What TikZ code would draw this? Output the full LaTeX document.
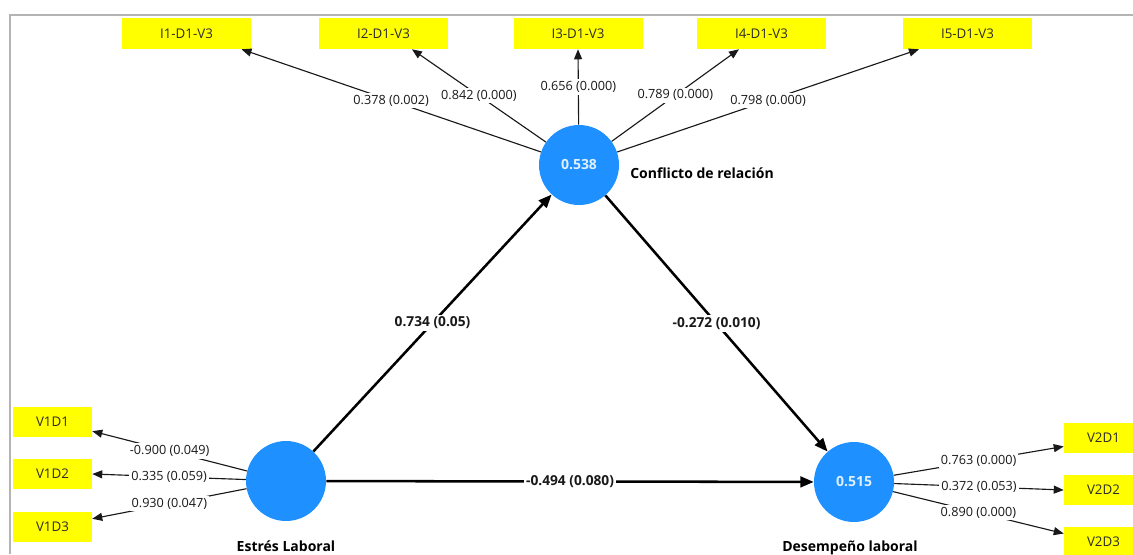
\documentclass[tikz,border=0pt]{standalone}
\usepackage{fontspec}
\setmainfont{Open Sans}
\usetikzlibrary{arrows.meta}
\definecolor{latblue}{RGB}{30,144,255}
\definecolor{boxyellow}{RGB}{255,255,0}
\definecolor{valtext}{RGB}{222,240,255}
\definecolor{framegray}{RGB}{180,180,180}
\definecolor{boxtext}{RGB}{45,45,45}
\begin{document}
\begin{tikzpicture}[x=0.75pt, y=-0.75pt,
    latent/.style={circle, fill=latblue, minimum size=60pt, inner sep=0pt, text=valtext, font=\fontsize{10.5}{12}\selectfont\bfseries},
    latname/.style={font=\fontsize{10.5}{12}\selectfont\bfseries, inner sep=0pt},
    topind/.style={fill=boxyellow, minimum width=96.75pt, minimum height=23.25pt, inner sep=0pt, text=boxtext, font=\fontsize{10}{12}\selectfont},
    sideind/.style={fill=boxyellow, minimum width=59.25pt, minimum height=22.5pt, inner sep=0pt, text=boxtext, font=\fontsize{10}{12}\selectfont},
    loadarrow/.style={-{Triangle[length=7.5pt,width=6pt]}, line width=0.85pt, black!90},
    structarrow/.style={-{Triangle[length=10pt,width=8pt]}, line width=1.9pt, black},
    coef/.style={fill=white, inner sep=1.5pt, text=black!90, font=\fontsize{9.5}{11}\selectfont},
    bcoef/.style={coef, font=\fontsize{10.3}{12}\selectfont\bfseries}]
    \useasboundingbox (0,0) rectangle (1133,554);
    \draw[framegray, line width=1.5pt] (10,554) -- (10,15) -- (1133,15);
    % latent variables
    \node[latent] (conf) at (579,165) {0.538};
    \node[latent] (estres) at (286,481) {};
    \node[latent] (desemp) at (854,482) {0.515};
    \node[latname, anchor=west] (lconf) at (630,173) {Conflicto de relación};
    \node[latname] (lestres) at (286,546) {Estrés Laboral};
    \node[latname] (ldesemp) at (850,548) {Desempeño laboral};
    % indicators
    \node[topind] (i1) at (186.5,33.5) {I1-D1-V3};
    \node[topind] (i2) at (383.5,33.5) {I2-D1-V3};
    \node[topind] (i3) at (578,33.5) {I3-D1-V3};
    \node[topind] (i4) at (761.5,33.5) {I4-D1-V3};
    \node[topind] (i5) at (967.5,33.5) {I5-D1-V3};
    \node[sideind] (v1d1) at (52.5,422) {V1D1};
    \node[sideind] (v1d2) at (52.5,474) {V1D2};
    \node[sideind] (v1d3) at (52.5,526.5) {V1D3};
    \node[sideind] (v2d1) at (1103.5,438) {V2D1};
    \node[sideind] (v2d2) at (1103.5,490) {V2D2};
    \node[sideind] (v2d3) at (1103.5,542) {V2D3};
    % outer loadings
    \draw[loadarrow] (conf) -- (i1.-16) node[coef, midway] {0.378 (0.002)};
    \draw[loadarrow] (conf) -- (i2.-29) node[coef, midway] {0.842 (0.000)};
    \draw[loadarrow] (conf) -- (i3.south) node[coef, midway] {0.656 (0.000)};
    \draw[loadarrow] (conf) -- (i4.-145) node[coef, midway] {0.789 (0.000)};
    \draw[loadarrow] (conf) -- (i5.-162) node[coef, midway] {0.798 (0.000)};
    \draw[loadarrow] (estres) -- (v1d1.-13) node[coef, midway] {-0.900 (0.049)};
    \draw[loadarrow] (estres) -- (v1d2.east) node[coef, midway] {0.335 (0.059)};
    \draw[loadarrow] (estres) -- (v1d3.11) node[coef, midway] {0.930 (0.047)};
    \draw[loadarrow] (desemp) -- (v2d1.-168) node[coef, midway] {0.763 (0.000)};
    \draw[loadarrow] (desemp) -- (v2d2.west) node[coef, midway] {0.372 (0.053)};
    \draw[loadarrow] (desemp) -- (v2d3.168) node[coef, midway] {0.890 (0.000)};
    % path coefficients
    \draw[structarrow] (estres) -- (conf) node[bcoef, midway] {0.734 (0.05)};
    \draw[structarrow] (conf) -- (desemp) node[bcoef, midway] {-0.272 (0.010)};
    \draw[structarrow] (estres) -- (desemp) node[bcoef, midway] {-0.494 (0.080)};
\end{tikzpicture}
\end{document}
